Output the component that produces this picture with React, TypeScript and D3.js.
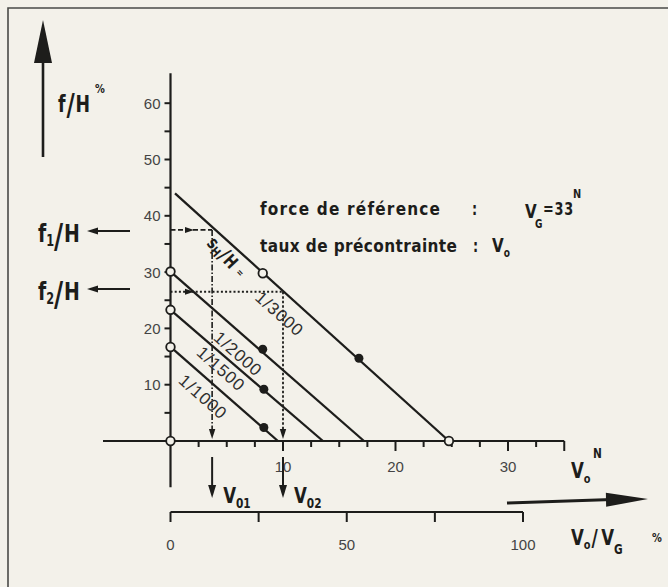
import React from "react";
import * as d3 from "d3";

const W = 668;
const H = 587;

// ---------- data ----------
const seriesLabels = ["1/1000", "1/1500", "1/2000", "1/3000"];
const seriesStartV = [0, 0, 0, 0.4];
const seriesStartF = [16.7, 23.3, 30.1, 44.0];
const seriesEndV = [9.55, 13.55, 17.2, 24.75];
const seriesEndF = [0, 0, 0, 0];

const openPointV = [0, 0, 0, 0, 8.2, 24.75];
const openPointF = [0, 16.7, 23.3, 30.1, 29.8, 0];
const filledPointV = [8.3, 8.3, 8.2, 16.75];
const filledPointF = [2.4, 9.2, 16.3, 14.7];

const readV = [3.7, 10]; // V01, V02
const readF = [37.5, 26.5]; // f1/H, f2/H

const yTickMajor = [10, 20, 30, 40, 50, 60];
const yTickMinor = [5, 15, 25, 35, 45, 55];
const xTickMajor = [10, 20, 30, 35];
const xTickMajorLabels = [10, 20, 30];
const xTickMinor = [2.5, 5, 7.5, 12.5, 15, 17.5, 22.5, 25, 27.5, 32.5];
const pctTicks = [0, 25, 50, 75, 100];
const pctTickLabels = [0, 50, 100];

// ---------- styles ----------
const COND = "'DejaVu Sans Condensed','Liberation Sans Narrow','Liberation Sans',sans-serif";
const THIN = "'Liberation Sans','Helvetica',Arial,sans-serif";
const INK = "#1d1d1b";
const GREY = "#444";
const SX = 0.84;

function head(tx: number, ty: number, ang: number, len: number, hw: number) {
  const bx = tx - len * Math.cos(ang);
  const by = ty - len * Math.sin(ang);
  const px = -Math.sin(ang) * hw;
  const py = Math.cos(ang) * hw;
  return `M${tx},${ty} L${bx + px},${by + py} L${bx - px},${by - py} Z`;
}

function CT(props: { x: number; y: number; size: number; children: React.ReactNode; rot?: number }) {
  const { x, y, size, children, rot } = props;
  const tr = `translate(${x},${y})${rot ? ` rotate(${rot})` : ""} scale(${SX},1)`;
  return (
    <text transform={tr} fontSize={size} fontFamily={COND} fontWeight="bold" fill={INK}>
      {children}
    </text>
  );
}

export default function App() {
  const x = d3.scaleLinear().domain([0, 30]).range([170.5, 508]);
  const y = d3.scaleLinear().domain([0, 60]).range([441, 103.2]);
  const pct = d3.scaleLinear().domain([0, 100]).range([170.5, 523]);
  const line = d3
    .line<[number, number]>()
    .x((d) => x(d[0]))
    .y((d) => y(d[1]));

  const x0 = x(0);
  const y0 = y(0);
  const pctY = 512;

  const f1y = y(readF[0]);
  const f2y = y(readF[1]);
  const v1x = x(readV[0]);
  const v2x = x(readV[1]);

  const rot = 41.5;
  const labelStarts: [number, number][] = [
    [177.5, 382],
    [195.5, 354],
    [212.5, 339],
    [254, 299],
  ];

  return (
    <svg
      width={W}
      height={H}
      viewBox={`0 0 ${W} ${H}`}
      style={{ position: "absolute", left: 0, top: 0, display: "block" }}
    >
      <rect x={0} y={0} width={W} height={H} fill="#f3f1ea" />
      {/* frame */}
      <path d={`M8,${H + 5} L8,8 L${W + 5},8`} fill="none" stroke="#4a4a48" strokeWidth={1.6} />

      {/* big vertical arrow */}
      <line x1={43} y1={157} x2={43} y2={60} stroke={INK} strokeWidth={2.6} />
      <path d={head(43, 20, -Math.PI / 2, 43, 9)} fill={INK} />

      {/* f/H label */}
      <CT x={58} y={112} size={23}>
        <tspan>f</tspan>
        <tspan fontSize={30} dy={3} dx={1}>/</tspan>
        <tspan dy={-3} dx={1}>H</tspan>
      </CT>
      <CT x={95} y={93} size={13}>%</CT>

      {/* f1/H and f2/H */}
      {[242, 300].map((by, i) => (
        <CT key={"fl" + i} x={38} y={by} size={25}>
          <tspan>f</tspan>
          <tspan fontSize={15} dy={4}>{i + 1}</tspan>
          <tspan fontSize={33} dy={2}>/</tspan>
          <tspan dy={-6} dx={1}>H</tspan>
        </CT>
      ))}

      <CT x={571} y={478} size={22}>
        V<tspan fontSize={13} dy={5}>o</tspan>
      </CT>
      <CT x={593} y={458} size={14}>N</CT>

      {/* annotation text */}
      <text x={260} y={215} fontSize={17} fontFamily={COND} fontWeight="bold" fill={INK} textLength={180} lengthAdjust="spacing">
        force de référence
      </text>
      <CT x={472} y={215} size={17}>:</CT>
      <CT x={525} y={218} size={20}>V</CT>
      <CT x={535} y={228} size={12}>G</CT>
      <CT x={543} y={215} size={17}>
        <tspan letterSpacing={1}>=33</tspan>
      </CT>
      <CT x={573} y={198} size={13}>N</CT>

      <text x={260} y={252} fontSize={17} fontFamily={COND} fontWeight="bold" fill={INK} textLength={197} lengthAdjust="spacing">
        taux de précontrainte
      </text>
      <CT x={473} y={252} size={17}>:</CT>
      <CT x={492} y={252} size={20}>
        V<tspan fontSize={12} dy={5}>o</tspan>
      </CT>

      {/* V01 / V02 */}
      {[v1x, v2x].map((vx, i) => (
        <CT key={"vt" + i} x={vx + 11} y={503} size={22}>
          V<tspan fontSize={14} dy={5}>{"0" + (i + 1)}</tspan>
        </CT>
      ))}

      <CT x={571} y={545} size={22}>
        V<tspan fontSize={13} dy={4}>o</tspan>
        <tspan fontSize={23} dy={-3} dx={1}>/</tspan>
        <tspan dy={-1} dx={4}>V</tspan>
        <tspan fontSize={14} dy={9}>G</tspan>
      </CT>
      <CT x={652} y={542} size={13}>%</CT>

      {/* s_H / H = */}
      <CT x={206} y={244} size={18} rot={47}>
        s<tspan fontSize={13} dy={3}>H</tspan>
        <tspan fontSize={21} dy={-2} dx={1}>/</tspan>
        <tspan dy={-1} dx={1}>H</tspan>
        <tspan fontSize={10} dx={7} dy={-2}>=</tspan>
      </CT>

      {/* f1/H, f2/H arrows */}
      {[242, 300].map((by, i) => (
        <g key={"fa" + i}>
          <line x1={130} y1={by - 11} x2={96} y2={by - 11} stroke={INK} strokeWidth={2} />
          <path d={head(87, by - 11, Math.PI, 11, 3.6)} fill={INK} />
        </g>
      ))}

      {/* y axis */}
      <line x1={x0} y1={y(65.3)} x2={x0} y2={y(-8.2)} stroke={INK} strokeWidth={2.2} />
      {yTickMajor.concat(yTickMinor).map((t) => (
        <line key={"yt" + t} x1={x0 - 6} y1={y(t)} x2={x0} y2={y(t)} stroke={INK} strokeWidth={2} />
      ))}
      {yTickMajor.map((t) => (
        <text
          key={"yl" + t}
          x={x0 - 10}
          y={y(t)}
          dy="0.36em"
          textAnchor="end"
          fontFamily={THIN}
          fontSize={15}
          fill={GREY}
        >
          {t}
        </text>
      ))}

      {/* x axis */}
      <line x1={x(-6)} y1={y0} x2={x(35)} y2={y0} stroke={INK} strokeWidth={2.2} />
      {xTickMinor.map((t) => (
        <line key={"xm" + t} x1={x(t)} y1={y0} x2={x(t)} y2={y0 + 6} stroke={INK} strokeWidth={2} />
      ))}
      {xTickMajor.map((t) => (
        <line key={"xM" + t} x1={x(t)} y1={y0} x2={x(t)} y2={y0 + 10} stroke={INK} strokeWidth={2} />
      ))}
      {xTickMajorLabels.map((t) => (
        <text key={"xl" + t} x={x(t)} y={472} textAnchor="middle" fontFamily={THIN} fontSize={15} fill={GREY}>
          {t}
        </text>
      ))}

      {/* reading lines f1 */}
      <line x1={x0} y1={f1y} x2={v1x} y2={f1y} stroke={INK} strokeWidth={1.6} strokeDasharray="5,2.5" />
      <path d={head(194, f1y, 0, 9, 3)} fill={INK} />
      <line x1={v1x} y1={f1y} x2={v1x} y2={y0 - 6} stroke={INK} strokeWidth={1.6} strokeDasharray="6,2,1.5,2" />
      <path d={head(v1x, y0 - 2, Math.PI / 2, 10, 3.2)} fill={INK} />
      {/* reading lines f2 */}
      <line x1={x0} y1={f2y} x2={v2x} y2={f2y} stroke={INK} strokeWidth={2} strokeDasharray="2,2.2" />
      <path d={head(194, f2y, 0, 9, 3)} fill={INK} />
      <line x1={v2x} y1={f2y} x2={v2x} y2={y0 - 6} stroke={INK} strokeWidth={1.8} strokeDasharray="2.5,2" />
      <path d={head(v2x, y0 - 2, Math.PI / 2, 10, 3.2)} fill={INK} />

      {/* series lines */}
      {seriesLabels.map((lab, i) => (
        <path
          key={"s" + lab}
          d={line([
            [seriesStartV[i], seriesStartF[i]],
            [seriesEndV[i], seriesEndF[i]],
          ]) as string}
          fill="none"
          stroke={INK}
          strokeWidth={2.3}
        />
      ))}
      {seriesLabels.map((lab, i) => (
        <text
          key={"sl" + lab}
          x={labelStarts[i][0]}
          y={labelStarts[i][1]}
          transform={`rotate(${rot},${labelStarts[i][0]},${labelStarts[i][1]})`}
          fontFamily={THIN}
          fontSize={17}
          fill="#2e2e2e"
          letterSpacing={1}
        >
          {lab}
        </text>
      ))}

      {/* markers */}
      {openPointV.map((v, i) => (
        <circle
          key={"op" + i}
          cx={x(v)}
          cy={y(openPointF[i])}
          r={4.3}
          fill="#f3f1ea"
          stroke={INK}
          strokeWidth={1.8}
        />
      ))}
      {filledPointV.map((v, i) => (
        <circle key={"fp" + i} cx={x(v)} cy={y(filledPointF[i])} r={4.5} fill={INK} />
      ))}

      {/* V01 / V02 arrows */}
      {[v1x, v2x].map((vx, i) => (
        <g key={"va" + i}>
          <line x1={vx} y1={457} x2={vx} y2={486} stroke={INK} strokeWidth={2} />
          <path d={head(vx, 498, Math.PI / 2, 13, 4)} fill={INK} />
        </g>
      ))}

      {/* percentage axis */}
      <line x1={pct(0)} y1={pctY} x2={pct(100)} y2={pctY} stroke={INK} strokeWidth={2} />
      {pctTicks.map((t) => (
        <line key={"pt" + t} x1={pct(t)} y1={pctY} x2={pct(t)} y2={pctY + 10} stroke={INK} strokeWidth={2} />
      ))}
      {pctTickLabels.map((t) => (
        <text key={"pl" + t} x={pct(t)} y={550} textAnchor="middle" fontFamily={THIN} fontSize={15} fill={GREY}>
          {t}
        </text>
      ))}

      {/* big horizontal arrow */}
      <line x1={507} y1={503} x2={612} y2={499.5} stroke={INK} strokeWidth={3} />
      <path d={head(648, 499, -0.02, 42, 7)} fill={INK} />
    </svg>
  );
}
